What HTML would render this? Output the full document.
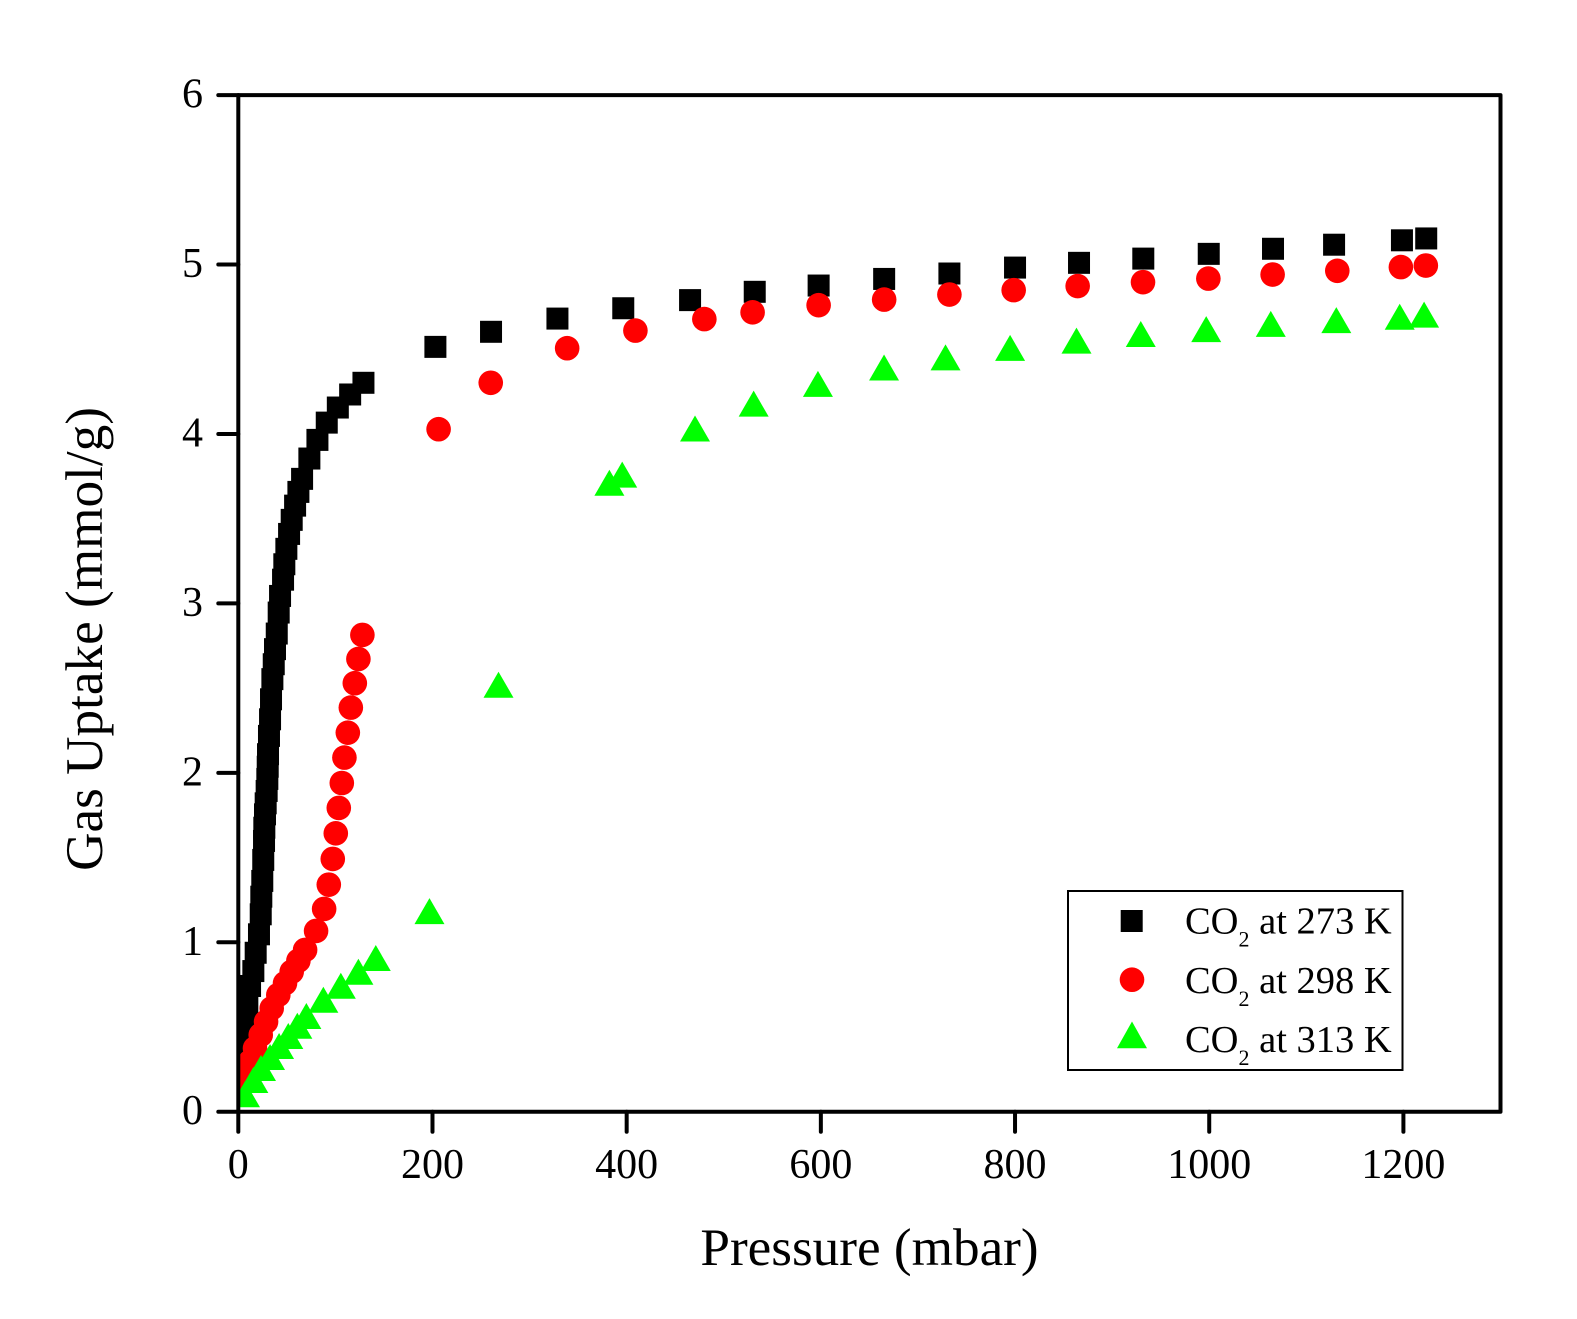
<!DOCTYPE html>
<html lang="en">
<head>
<meta charset="utf-8">
<title>CO2 Gas Uptake vs Pressure</title>
<style>
html,body{margin:0;padding:0;background:#fff;}
svg{display:block;}
text{font-family:"Liberation Serif","Times New Roman",serif;fill:#000;}
</style>
</head>
<body>
<svg id="chart" xmlns="http://www.w3.org/2000/svg" width="1577" height="1319" viewBox="0 0 1577 1319">
  <defs>
    <clipPath id="plot-clip"><rect id="plot-clip-rect" x="238" y="95" width="1263" height="1017"></rect></clipPath>
  </defs>
  <rect x="0" y="0" width="1577" height="1319" fill="#fff"></rect>
  <g id="series-layer" clip-path="url(#plot-clip)"></g>
  <g id="axes-layer"></g>
  <text x="869.5" y="1265" font-size="53.2" text-anchor="middle">Pressure (mbar)</text>
  <text x="102" y="639" font-size="53.2" text-anchor="middle" transform="rotate(-90 102 639)">Gas Uptake (mmol/g)</text>
  <g>
    <rect x="1068" y="891" width="334.5" height="179" fill="#fff" stroke="#000" stroke-width="2"></rect>
    <rect x="1120.7" y="910" width="22" height="22" fill="#000"></rect>
    <circle cx="1132" cy="979.7" r="12.3" fill="#ff0000"></circle>
    <polygon points="1132,1021.5 1147,1048.3 1117,1048.3" fill="#00ff00"></polygon>
    <text x="1185" y="933.3" font-size="38.5">CO<tspan font-size="22" dy="13">2</tspan><tspan dy="-13"> at 273 K</tspan></text>
    <text x="1185" y="993" font-size="38.5">CO<tspan font-size="22" dy="13">2</tspan><tspan dy="-13"> at 298 K</tspan></text>
    <text x="1185" y="1052" font-size="38.5">CO<tspan font-size="22" dy="13">2</tspan><tspan dy="-13"> at 313 K</tspan></text>
  </g>
</svg>
<script>
const xTicks = [0, 200, 400, 600, 800, 1000, 1200];
const yTicks = [0, 1, 2, 3, 4, 5, 6];

const pressure273 = [1.8,5.2,7.6,9.3,12.1,15.5,17.9,21.3,23.1,23.7,24.7,25.7,26.5,26.8,27.5,28.2,29.2,29.9,30.3,30.6,31.6,32.7,33.7,35.1,36.5,37.8,39.6,41.6,43,46.1,47.4,49.5,52.3,55,58.5,61.9,65.7,73.2,81.5,91.1,102.5,115.2,128.9,203,260.3,328.7,396.5,465.3,531.9,597.7,665.2,732.4,800,865.9,932.1,999.5,1065.7,1128.6,1198.5,1223.5];
const uptake273 = [0.305,0.423,0.535,0.634,0.742,0.83,0.938,1.047,1.165,1.269,1.362,1.486,1.598,1.676,1.755,1.82,1.893,1.964,2.036,2.11,2.218,2.316,2.434,2.553,2.641,2.73,2.822,2.946,3.044,3.14,3.231,3.322,3.41,3.493,3.577,3.658,3.735,3.855,3.965,4.067,4.156,4.233,4.302,4.514,4.603,4.681,4.742,4.79,4.839,4.876,4.915,4.947,4.982,5.01,5.035,5.063,5.093,5.117,5.143,5.154];

const pressure298 = [2,5.9,12.1,17.2,23.1,28.6,34.4,41.2,48.1,55,61.9,68.8,80.1,88.4,93.2,97.3,100.4,103.5,106.6,109.3,112.8,115.9,120,123.7,127.8,206.3,260,338.7,409,480,529.7,597.7,665.2,732.4,798.6,864.5,931.8,999.1,1065.3,1131.9,1197.4,1223.1];
const uptake298 = [0.14,0.217,0.295,0.374,0.453,0.531,0.61,0.689,0.758,0.826,0.891,0.955,1.067,1.197,1.34,1.492,1.643,1.793,1.94,2.09,2.237,2.385,2.529,2.672,2.814,4.028,4.302,4.506,4.61,4.678,4.718,4.76,4.793,4.823,4.849,4.873,4.896,4.917,4.941,4.963,4.985,4.994];

const pressure313 = [6.9,15.5,23.4,32.7,42,51.5,60.8,70.1,87.6,105.6,123.7,141.6,196.9,268,382.2,395.4,470.4,530.8,597,665.1,728.4,794.9,863.3,929.5,996.9,1063.4,1130.9,1196.2,1221.3];
const uptake313 = [0.103,0.187,0.258,0.323,0.388,0.447,0.507,0.565,0.661,0.743,0.826,0.907,1.184,2.52,3.712,3.76,4.032,4.179,4.296,4.392,4.452,4.508,4.551,4.59,4.619,4.65,4.672,4.692,4.704];

const xMaxValue = 1300;
const yMaxValue = 6;

const NS = 'http://www.w3.org/2000/svg';
const xAt = function (v) { return 238.3 + v * (1262.2 / xMaxValue); };
const yAt = function (v) { return 1111.7 - v * (1016.6 / yMaxValue); };

const seriesLayer = document.getElementById('series-layer');
const axesLayer = document.getElementById('axes-layer');

function drawAxisLine(x1, y1, x2, y2) {
  const l = document.createElementNS(NS, 'line');
  l.setAttribute('x1', x1);
  l.setAttribute('y1', y1);
  l.setAttribute('x2', x2);
  l.setAttribute('y2', y2);
  l.setAttribute('stroke', '#000');
  l.setAttribute('stroke-width', '4');
  l.setAttribute('stroke-linecap', 'round');
  axesLayer.appendChild(l);
  return l;
}

const xLeft = xAt(0), xRight = xAt(xMaxValue), yBottom = yAt(0), yTop = yAt(yMaxValue);

const frame = document.createElementNS(NS, 'rect');


frame.setAttribute('x', xLeft);
frame.setAttribute('y', yTop);
frame.setAttribute('width', xRight - xLeft);
frame.setAttribute('height', yBottom - yTop);
frame.setAttribute('fill', 'none');
frame.setAttribute('stroke', '#000');
frame.setAttribute('stroke-width', '4');
frame.setAttribute('stroke-linejoin', 'round');
axesLayer.appendChild(frame);

xTicks.forEach(function (t) {
  const tick = drawAxisLine(xAt(t), yBottom, xAt(t), yBottom + 20);
  
  
  const label = document.createElementNS(NS, 'text');
  
  
  label.setAttribute('x', xAt(t));
  label.setAttribute('y', 1178);
  label.setAttribute('font-size', '42');
  label.setAttribute('text-anchor', 'middle');
  label.textContent = String(t);
  axesLayer.appendChild(label);
});

yTicks.forEach(function (t) {
  const tick = drawAxisLine(xLeft - 20, yAt(t), xLeft, yAt(t));
  
  
  const label = document.createElementNS(NS, 'text');
  
  
  label.setAttribute('x', 203);
  label.setAttribute('y', yAt(t) + 12.5);
  label.setAttribute('font-size', '42');
  label.setAttribute('text-anchor', 'end');
  label.textContent = String(t);
  axesLayer.appendChild(label);
});

pressure273.forEach(function (p, i) {
  const m = document.createElementNS(NS, 'rect');
  
  
  m.setAttribute('x', xAt(p) - 11);
  m.setAttribute('y', yAt(uptake273[i]) - 11);
  m.setAttribute('width', 22);
  m.setAttribute('height', 22);
  m.setAttribute('fill', '#000');
  seriesLayer.appendChild(m);
});

pressure298.forEach(function (p, i) {
  const m = document.createElementNS(NS, 'circle');
  
  
  m.setAttribute('cx', xAt(p));
  m.setAttribute('cy', yAt(uptake298[i]));
  m.setAttribute('r', 12.3);
  m.setAttribute('fill', '#ff0000');
  seriesLayer.appendChild(m);
});

pressure313.forEach(function (p, i) {
  const cx = xAt(p), cy = yAt(uptake313[i]);
  const m = document.createElementNS(NS, 'polygon');
  
  
  m.setAttribute('points', cx + ',' + (cy - 13) + ' ' + (cx + 15) + ',' + (cy + 13) + ' ' + (cx - 15) + ',' + (cy + 13));
  m.setAttribute('fill', '#00ff00');
  seriesLayer.appendChild(m);
});
</script>
</body>
</html>
